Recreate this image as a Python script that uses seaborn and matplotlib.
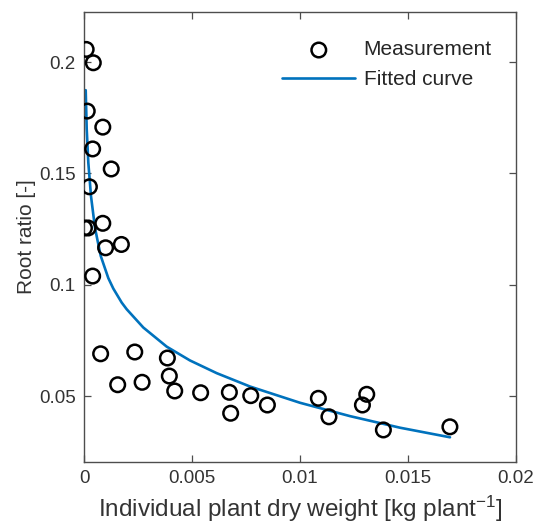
import numpy as np
import pandas as pd
import matplotlib
matplotlib.use("Agg")
import matplotlib.pyplot as plt
import seaborn as sns
from matplotlib.ticker import FixedLocator, FuncFormatter

# Measured points (dry weight in kg/plant, root ratio)
dry_weight = [0.0001, 0.00043, 0.00015, 0.00087, 0.0004, 0.00126, 0.00025,
              0.00002, 0.00019, 0.00087, 0.001, 0.00173, 0.0004,
              0.00077, 0.00235, 0.00386, 0.00156, 0.00269, 0.00395, 0.0042,
              0.0054, 0.00673, 0.00679, 0.00772, 0.00849,
              0.01085, 0.01134, 0.01289, 0.01309, 0.01386, 0.01694]
root_ratio = [0.2057, 0.1997, 0.178, 0.1708, 0.161, 0.152, 0.144,
              0.1255, 0.1255, 0.1276, 0.1166, 0.1181, 0.1039,
              0.069, 0.0698, 0.0671, 0.0551, 0.0562, 0.059, 0.0523,
              0.0515, 0.0517, 0.0423, 0.0502, 0.046,
              0.049, 0.0407, 0.046, 0.0508, 0.0348, 0.0362]

# Fitted curve
fit_x = [0.000079, 0.000125, 0.0002, 0.000324, 0.000509, 0.000773, 0.001125,
         0.001356, 0.001745, 0.001977, 0.002745, 0.003829, 0.004907, 0.006144,
         0.007685, 0.01, 0.012315, 0.01463, 0.016944]
fit_y = [0.1874, 0.1700, 0.1548, 0.1398, 0.1255, 0.1130, 0.1030,
         0.0983, 0.0920, 0.0890, 0.0808, 0.0722, 0.0660, 0.0603,
         0.0543, 0.0470, 0.0410, 0.0358, 0.0315]

x_ticks = [0, 0.005, 0.01, 0.015, 0.02]
y_ticks = [0.05, 0.1, 0.15, 0.2]

sns.set_style("ticks")
plt.rcParams['font.family'] = ['Liberation Sans', 'DejaVu Sans']
plt.rcParams['mathtext.default'] = 'regular'

axis_grey = (0.3, 0.3, 0.3)
text_grey = (0.2, 0.2, 0.2)

fig = plt.figure(figsize=(5.37, 5.32), dpi=100)
ax = fig.add_axes([84 / 537, 70 / 532, 432 / 537, 450 / 532])

meas = pd.DataFrame({"x": dry_weight, "y": root_ratio})
fit = pd.DataFrame({"x": fit_x, "y": fit_y})

sns.lineplot(data=fit, x="x", y="y", ax=ax, color=(0, 0.447, 0.741),
             linewidth=1.9, label="Fitted curve", sort=False, zorder=2)
sns.scatterplot(data=meas, x="x", y="y", ax=ax, marker="o", s=110,
                facecolors="none", edgecolor="black", linewidth=1.8,
                label="Measurement", zorder=3)

ax.set_xlim(0, 0.02)
ax.set_ylim(0.0204, 0.2225)
ax.xaxis.set_major_locator(FixedLocator(x_ticks))
ax.yaxis.set_major_locator(FixedLocator(y_ticks))
ax.xaxis.set_major_formatter(FuncFormatter(lambda v, p: f"{v:g}"))
ax.yaxis.set_major_formatter(FuncFormatter(lambda v, p: f"{v:g}"))

ax.tick_params(direction="in", length=5, width=0.9, colors=axis_grey,
               labelcolor=text_grey, labelsize=13.5, top=True, right=True, pad=6)
for s in ax.spines.values():
    s.set_color(axis_grey)
    s.set_linewidth(1.0)
    s.set_visible(True)

ax.set_xlabel("Individual plant dry weight [kg plant$^{-1}$]", fontsize=17.5,
              color=text_grey, labelpad=5)
ax.set_ylabel("Root ratio [-]", fontsize=15, color=text_grey, labelpad=2)

# legend: measurement first, no box
h, l = ax.get_legend_handles_labels()
order = [l.index("Measurement"), l.index("Fitted curve")]
leg = ax.legend([h[i] for i in order], [l[i] for i in order],
                loc="upper right", frameon=False, fontsize=15,
                handlelength=3.5, handletextpad=0.4, borderaxespad=0.6,
                labelspacing=0.5, bbox_to_anchor=(0.992, 0.983))

fig.savefig("out.png", dpi=100)
